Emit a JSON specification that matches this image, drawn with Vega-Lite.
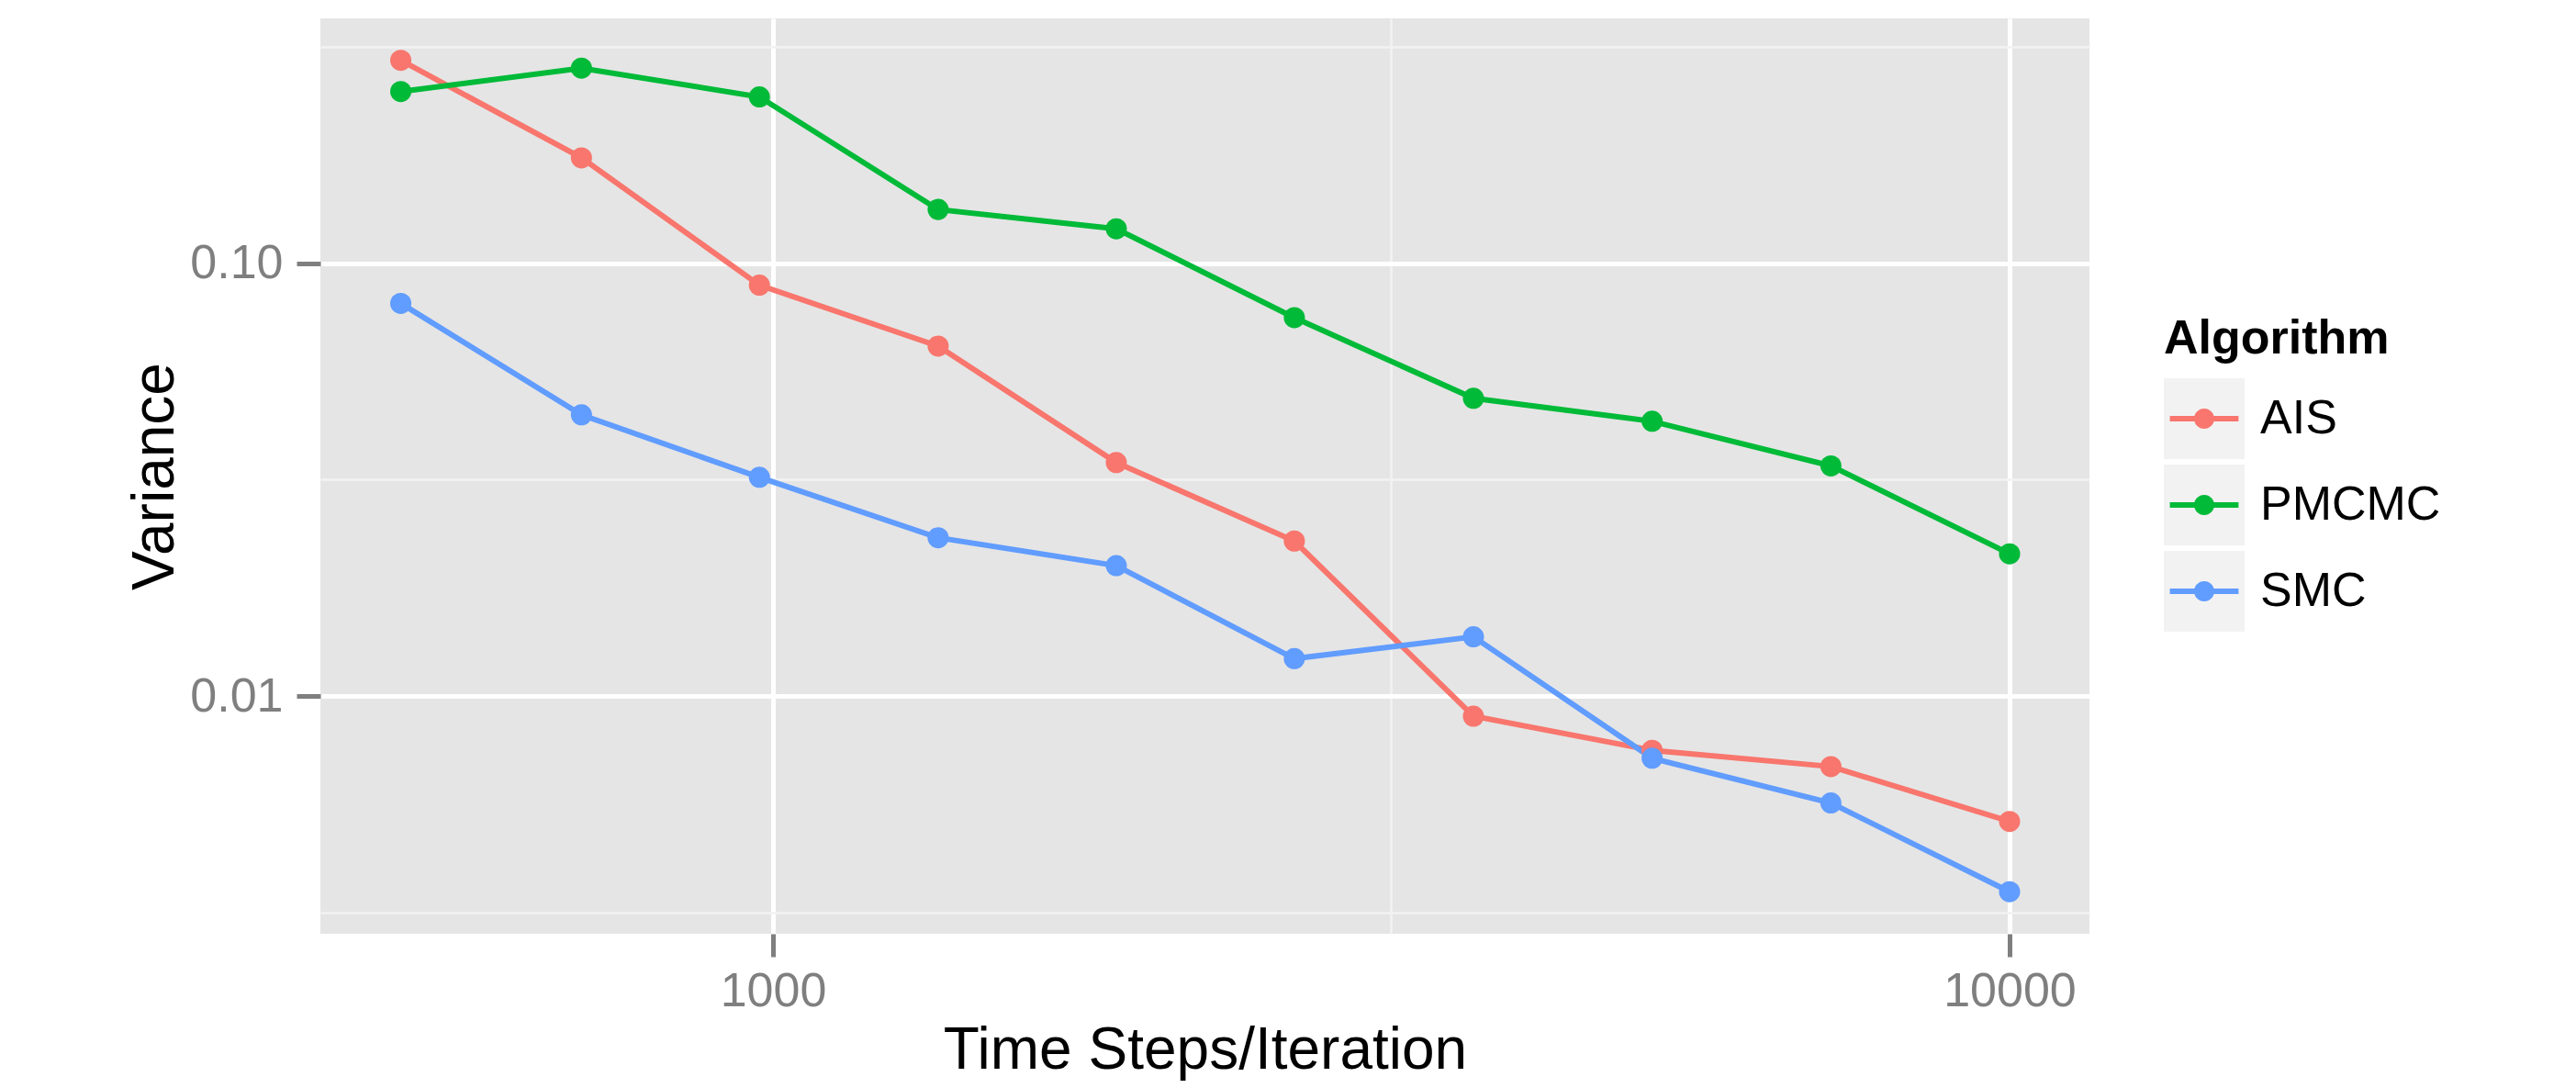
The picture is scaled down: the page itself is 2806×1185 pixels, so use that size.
{
  "$schema": "https://vega.github.io/schema/vega-lite/v6.json",
  "autosize": {"type": "none"},
  "padding": {"left": 349, "top": 20, "right": 530, "bottom": 168},
  "width": 1927,
  "height": 997,
  "background": "white",
  "title": {"text": "Comparison of Monte Carlo Variance", "fontSize": 74, "font": "Liberation Sans", "fontWeight": "normal", "color": "black", "anchor": "middle", "frame": "group", "baseline": "alphabetic", "offset": 17},
  "data": {"values": [
    {"steps": 500, "Algorithm": "AIS", "Variance": 0.294},
    {"steps": 700, "Algorithm": "AIS", "Variance": 0.175},
    {"steps": 975, "Algorithm": "AIS", "Variance": 0.0889},
    {"steps": 1360, "Algorithm": "AIS", "Variance": 0.0643},
    {"steps": 1895, "Algorithm": "AIS", "Variance": 0.0346},
    {"steps": 2640, "Algorithm": "AIS", "Variance": 0.0228},
    {"steps": 3685, "Algorithm": "AIS", "Variance": 0.00898},
    {"steps": 5140, "Algorithm": "AIS", "Variance": 0.00749},
    {"steps": 7170, "Algorithm": "AIS", "Variance": 0.00687},
    {"steps": 10000, "Algorithm": "AIS", "Variance": 0.00513},
    {"steps": 500, "Algorithm": "PMCMC", "Variance": 0.249},
    {"steps": 700, "Algorithm": "PMCMC", "Variance": 0.282},
    {"steps": 975, "Algorithm": "PMCMC", "Variance": 0.242},
    {"steps": 1360, "Algorithm": "PMCMC", "Variance": 0.133},
    {"steps": 1895, "Algorithm": "PMCMC", "Variance": 0.120},
    {"steps": 2640, "Algorithm": "PMCMC", "Variance": 0.0748},
    {"steps": 3685, "Algorithm": "PMCMC", "Variance": 0.0487},
    {"steps": 5140, "Algorithm": "PMCMC", "Variance": 0.0431},
    {"steps": 7170, "Algorithm": "PMCMC", "Variance": 0.0340},
    {"steps": 10000, "Algorithm": "PMCMC", "Variance": 0.0213},
    {"steps": 500, "Algorithm": "SMC", "Variance": 0.0807},
    {"steps": 700, "Algorithm": "SMC", "Variance": 0.0446},
    {"steps": 975, "Algorithm": "SMC", "Variance": 0.0320},
    {"steps": 1360, "Algorithm": "SMC", "Variance": 0.0232},
    {"steps": 1895, "Algorithm": "SMC", "Variance": 0.0200},
    {"steps": 2640, "Algorithm": "SMC", "Variance": 0.0122},
    {"steps": 3685, "Algorithm": "SMC", "Variance": 0.0137},
    {"steps": 5140, "Algorithm": "SMC", "Variance": 0.00718},
    {"steps": 7170, "Algorithm": "SMC", "Variance": 0.00566},
    {"steps": 10000, "Algorithm": "SMC", "Variance": 0.00353}
  ]},
  "encoding": {
    "x": {
      "field": "steps", "type": "quantitative", "title": "Time Steps/Iteration",
      "scale": {"type": "log", "domain": [430.5, 11604], "nice": false},
      "axis": {
        "values": [1000, 3162.2777, 10000],
        "format": "d",
        "labelExpr": "datum.value == 3162.2777 ? '' : datum.label",
        "domain": false,
        "grid": true,
        "gridColor": {"condition": {"test": "datum.value == 3162.2777", "value": "#F2F2F2"}, "value": "#FFFFFF"},
        "gridWidth": {"condition": {"test": "datum.value == 3162.2777", "value": 2.5}, "value": 5},
        "gridOpacity": 1,
        "tickOpacity": {"condition": {"test": "datum.value == 3162.2777", "value": 0}, "value": 1},
        "tickColor": "#7F7F7F", "tickWidth": 5, "tickSize": 25,
        "labelPadding": 12, "labelFontSize": 52, "labelColor": "#7F7F7F", "labelFont": "Liberation Sans",
        "labelFlush": false, "labelOverlap": false,
        "titleFontSize": 64, "titleFontWeight": "normal", "titleColor": "black", "titleFont": "Liberation Sans", "titlePadding": 7
      }
    },
    "y": {
      "field": "Variance", "type": "quantitative", "title": "Variance",
      "scale": {"type": "log", "domain": [0.002823, 0.3675], "nice": false},
      "axis": {
        "values": [0.0031622777, 0.01, 0.031622777, 0.1, 0.31622777],
        "format": ".2f",
        "labelExpr": "(datum.value == 0.1 || datum.value == 0.01) ? datum.label : ''",
        "domain": false,
        "grid": true,
        "gridColor": {"condition": {"test": "datum.value == 0.1 || datum.value == 0.01", "value": "#FFFFFF"}, "value": "#F2F2F2"},
        "gridWidth": {"condition": {"test": "datum.value == 0.1 || datum.value == 0.01", "value": 5}, "value": 2.5},
        "gridOpacity": 1,
        "tickOpacity": {"condition": {"test": "datum.value == 0.1 || datum.value == 0.01", "value": 1}, "value": 0},
        "tickColor": "#7F7F7F", "tickWidth": 5, "tickSize": 26,
        "labelPadding": 15, "labelFontSize": 52, "labelColor": "#7F7F7F", "labelFont": "Liberation Sans",
        "labelFlush": false, "labelOverlap": false,
        "titleFontSize": 64, "titleFontWeight": "normal", "titleColor": "black", "titleFont": "Liberation Sans", "titlePadding": 5
      }
    },
    "color": {
      "field": "Algorithm", "type": "nominal",
      "scale": {"domain": ["AIS", "PMCMC", "SMC"], "range": ["#F8766D", "#00BA38", "#619CFF"]},
      "legend": {
        "orient": "none", "legendX": 2008, "legendY": 324, "zindex": 2,
        "title": "Algorithm", "titleFontSize": 52, "titleFontWeight": "bold", "titleColor": "black", "titleFont": "Liberation Sans", "titlePadding": 16, "titleLimit": 600,
        "labelFontSize": 52, "labelColor": "black", "labelFont": "Liberation Sans", "labelOffset": 17, "labelLimit": 600,
        "symbolType": "M-1,-1L-1,1L-1,-1Z M1,-1L1,1L1,-1Z M-0.85,-0.068L0.85,-0.068L0.85,0.068L-0.85,0.068Z M-0.25,0A0.25,0.25 0 1 1 0.25,0A0.25,0.25 0 1 1 -0.25,0Z",
        "symbolSize": 7744, "symbolStrokeWidth": 0, "symbolOpacity": 1, "rowPadding": 6, "padding": 0
      }
    }
  },
  "layer": [
    {"mark": {"type": "line", "strokeWidth": 6}},
    {
      "mark": {"type": "point", "filled": true, "size": 530},
      "encoding": {
        "opacity": {
          "field": "Algorithm", "type": "ordinal",
          "scale": {"range": [1, 1]},
          "legend": {
            "orient": "none", "legendX": 2008, "legendY": 392, "zindex": 0,
            "title": null,
            "labelFontSize": 52, "labelOpacity": 0, "labelOffset": 17, "labelLimit": 600,
            "symbolType": "square", "symbolSize": 7744, "symbolStrokeWidth": 0, "symbolFillColor": "#F2F2F2", "symbolOpacity": 1,
            "rowPadding": 6, "padding": 0
          }
        }
      }
    }
  ],
  "config": {"view": {"fill": "#E5E5E5", "stroke": null}, "font": "Liberation Sans"}
}
